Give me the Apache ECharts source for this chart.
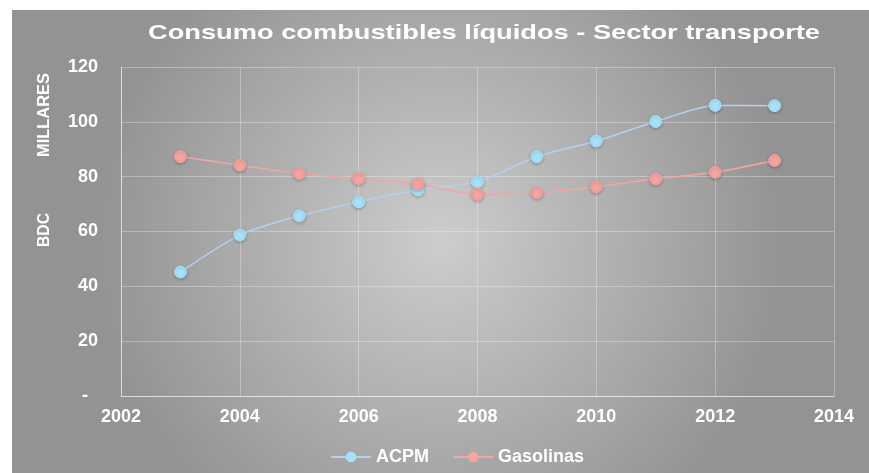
<!DOCTYPE html>
<html><head><meta charset="utf-8">
<script src="https://cdn.jsdelivr.net/npm/echarts@6/dist/echarts.min.js"></script>
<style>html,body{margin:0;padding:0;background:#fff;}#c{width:869px;height:473px;}</style>
</head><body><div id="c"></div>
<script>
const years = [2003,2004,2005,2006,2007,2008,2009,2010,2011,2012,2013];
const acpm = [45.2,58.7,65.7,70.8,75.2,78.1,87.3,93.0,100.1,106.0,105.9];
const gasolinas = [87.3,84.2,81.2,79.3,77.3,73.5,74.1,76.3,79.2,81.6,85.9];
const titleText = 'Consumo combustibles líquidos - Sector transporte';
const yNameTop = 'MILLARES';
const yNameBottom = 'BDC';
const seriesNames = ['ACPM','Gasolinas'];

const cv = document.createElement('canvas').getContext('2d');
function fitScale(text, font, target){ cv.font = font; return target / cv.measureText(text).width; }
const titleFont = 'bold 21px "Liberation Sans"';
const nameFont = 'bold 17px "Liberation Sans"';

const chart = echarts.init(document.getElementById('c'));
const lbl = {color:'#fff', fontFamily:'Liberation Sans', fontWeight:'bold', fontSize:18};
const mk = (name, data, line, fill) => ({
  name, type:'line', data: years.map((y,i)=>[y,data[i]]), smooth:0.25,
  symbol:'circle', symbolSize:12,
  lineStyle:{color:line, width:1.5},
  itemStyle:{color:fill, borderColor:fill, shadowColor:'rgba(0,0,0,0.25)', shadowBlur:3, shadowOffsetY:1}
});
chart.setOption({
  animation:false,
  backgroundColor:'#fff',
  graphic:[
    {type:'rect', z:-10, shape:{x:12,y:10,width:857,height:463},
     style:{fill:new echarts.graphic.RadialGradient(0.5,0.5,0.75,[
       {offset:0,color:'#cdcdcd'},{offset:1,color:'#939393'}])}},
    {type:'text', x:484, y:33, scaleX:fitScale(titleText, titleFont, 672),
     style:{text:titleText, fill:'#fff', font:titleFont, align:'center', verticalAlign:'middle'}},
    {type:'text', x:44, y:115, rotation:Math.PI/2, scaleX:fitScale(yNameTop, nameFont, 84),
     style:{text:yNameTop, fill:'#fff', font:nameFont, align:'center', verticalAlign:'middle'}},
    {type:'text', x:44, y:230, rotation:Math.PI/2, scaleX:fitScale(yNameBottom, nameFont, 34),
     style:{text:yNameBottom, fill:'#fff', font:nameFont, align:'center', verticalAlign:'middle'}}
  ],
  legend:{data:seriesNames, top:443, left:325, itemWidth:40, itemHeight:13, itemGap:23,
    textStyle:{color:'#fff', fontFamily:'Liberation Sans', fontWeight:'bold', fontSize:18}},
  grid:{left:121, right:35, top:67, bottom:77},
  xAxis:{type:'value', min:2002, max:2014, interval:2,
    axisLine:{show:true, lineStyle:{color:'rgba(255,255,255,0.55)'}},
    axisTick:{show:false},
    axisLabel:{...lbl, margin:12, formatter:v=>String(v)},
    splitLine:{show:true, lineStyle:{color:'rgba(255,255,255,0.3)'}}},
  yAxis:{type:'value', min:0, max:120, interval:20,
    axisLine:{show:true, lineStyle:{color:'rgba(255,255,255,0.55)'}},
    axisTick:{show:false},
    axisLabel:{...lbl, margin:23, formatter:v=>v===0?'-  ':String(v)},
    splitLine:{show:true, lineStyle:{color:'rgba(255,255,255,0.3)'}}},
  series:[mk('ACPM', acpm, '#b8cff0', '#a8e2fa'), mk('Gasolinas', gasolinas, '#f3a5a5', '#f5a4a2')]
});
</script></body></html>
